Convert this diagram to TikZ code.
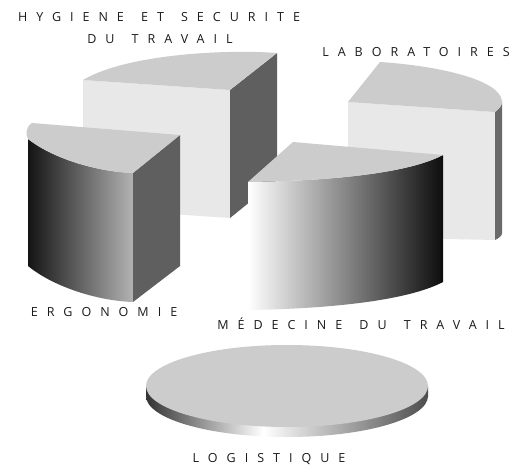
\documentclass[tikz,border=0pt]{standalone}
\usepackage{fontspec}
\setmainfont{Open Sans}[LetterSpace=72, WordSpace=1.4]
\definecolor{topg}{HTML}{CCCCCC}
\definecolor{frontg}{HTML}{E8E8E8}
\definecolor{sideg}{HTML}{5F5F5F}
\definecolor{stripg}{HTML}{6A6A6A}
\definecolor{txt}{HTML}{1A1A1A}
\pgfdeclarehorizontalshading{rimshade}{100bp}{color(0bp)=(black!80); color(25bp)=(black!80); color(45.75bp)=(white); color(75bp)=(black!70); color(100bp)=(black!70)}
\tikzset{
  lbl/.style={font=\fontsize{12.5}{13}\selectfont, text=txt, text height=9pt, text depth=0pt, inner sep=0pt},
  topface/.style={fill=topg},
  frontface/.style={fill=frontg},
  sideface/.style={fill=sideg},
  stripface/.style={fill=stripg},
}
\begin{document}
\begin{tikzpicture}[x=1pt,y=-1pt]
\useasboundingbox (0,0) rectangle (518,468);
\fill[white] (0,0) rectangle (518,468);
% HYGIENE block
\fill[frontface] (83,80) -- (230,90) -- (230,218) -- (83,208) -- cycle;
\fill[sideface] (230,90) -- (277,53) -- (277,180) -- (230,218) -- cycle;
\fill[topface] (83,80) -- (230,90) -- (277,53) .. controls (220,49) and (125,55) .. (83,80) -- cycle;
% LABORATOIRES block
\fill[frontface] (348,102) -- (495,112) -- (495,240) -- (348,237) -- cycle;
\fill[stripface] (495,112) .. controls (499,109) and (502,106) .. (502,101) -- (502,233) .. controls (502,236) and (499,238) .. (495,240) -- cycle;
\fill[topface] (348,102) -- (380,62) .. controls (440,66) and (500,80) .. (502,101) .. controls (502,106) and (499,109) .. (495,112) -- cycle;
% ERGONOMIE block
\shade[left color=black!92, right color=black!30] (28,139) .. controls (55,160) and (100,172) .. (133,173) -- (133,302) .. controls (100,301) and (55,288) .. (28,266) -- cycle;
\fill[sideface] (133,173) -- (180,135) -- (180,266) -- (133,302) -- cycle;
\fill[topface] (32,123) -- (180,135) -- (133,173) .. controls (100,172) and (55,160) .. (28,139) .. controls (25,134) and (26,127) .. (32,123) -- cycle;
% MEDECINE block
\shade[left color=white, right color=black!95] (248,182) .. controls (320,181) and (405,175) .. (443,155) -- (443,282) .. controls (405,302) and (320,309) .. (248,310) -- cycle;
\fill[topface] (293,142) -- (443,155) .. controls (405,175) and (320,181) .. (248,182) -- cycle;
% LOGISTIQUE disc
\shade[shading=rimshade] (146,386) rectangle (428,396);
\shade[shading=rimshade] (287,396) ellipse [x radius=141, y radius=41];
\fill[topface] (287,386) ellipse [x radius=141, y radius=41];
% labels
\node[lbl] (hyg) at (159,17) {HYGIENE ET SECURITE};
\node[lbl] (hyg2) at (160,39) {DU TRAVAIL};
\node[lbl] (lab) at (416,52) {LABORATOIRES};
\node[lbl] (erg) at (104,312) {ERGONOMIE};
\node[lbl] (med) at (361,325) {MÉDECINE DU TRAVAIL};
\node[lbl] (log) at (269,458) {LOGISTIQUE};
\end{tikzpicture}
\end{document}
